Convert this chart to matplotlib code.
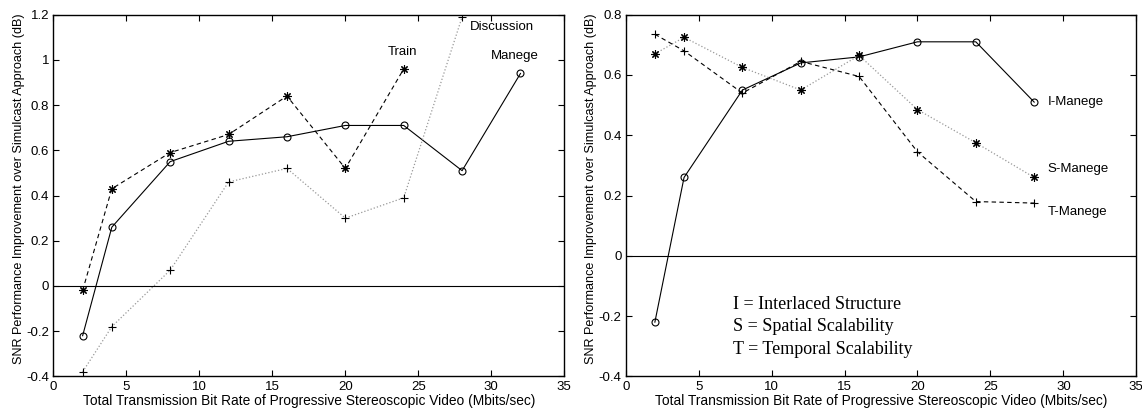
import matplotlib
matplotlib.use("Agg")
import matplotlib.pyplot as plt
import numpy as np

# data
rate_a = [2, 4, 8, 12, 16, 20, 24, 28, 32]
manege = [-0.22, 0.26, 0.55, 0.64, 0.66, 0.71, 0.71, 0.51, 0.94]
rate_train = [2, 4, 8, 12, 16, 20, 24]
train = [-0.02, 0.43, 0.59, 0.67, 0.84, 0.52, 0.96]
rate_disc = [2, 4, 8, 12, 16, 20, 24, 28]
discussion = [-0.38, -0.18, 0.07, 0.46, 0.52, 0.30, 0.39, 1.19]

rate_b = [2, 4, 8, 12, 16, 20, 24, 28]
i_manege = [-0.22, 0.26, 0.55, 0.64, 0.66, 0.71, 0.71, 0.51]
s_manege = [0.67, 0.725, 0.625, 0.55, 0.665, 0.485, 0.375, 0.26]
t_manege = [0.735, 0.68, 0.54, 0.645, 0.595, 0.345, 0.18, 0.175]

plt.rcParams['font.family'] = ['Liberation Sans', 'DejaVu Sans']
plt.rcParams['xtick.direction'] = 'in'
plt.rcParams['ytick.direction'] = 'in'
plt.rcParams['xtick.top'] = True
plt.rcParams['ytick.right'] = True
plt.rcParams['xtick.labelsize'] = 9.5
plt.rcParams['ytick.labelsize'] = 9.5

xlab = 'Total Transmission Bit Rate of Progressive Stereoscopic Video (Mbits/sec)'
ylab = 'SNR Performance Improvement over Simulcast Approach (dB)'

asterisk = (8, 2, 0)
dash = (0, (4, 3))
grey = '#999999'

fig = plt.figure(figsize=(11.42, 4.08), dpi=100)
ax1 = fig.add_axes([0.0468, 0.0775, 0.4473, 0.8865])
ax2 = fig.add_axes([0.5479, 0.0775, 0.4471, 0.8865])

# left panel
ax1.plot(rate_a, manege, '-', color='k', lw=0.8, marker='o', ms=5, mfc='none', mew=0.8)
ax1.plot(rate_train, train, linestyle=dash, color='k', lw=0.8, marker=asterisk, ms=6, mew=0.8)
ax1.plot(rate_disc, discussion, linestyle=':', color=grey, lw=0.9)
ax1.plot(rate_disc, discussion, linestyle='none', color='k', marker='+', ms=6, mew=0.8)
ax1.axhline(0, color='k', lw=0.8)
ax1.text(23.9, 1.036, 'Train', fontsize=9.5, ha='center', va='center')
ax1.text(28.5, 1.147, 'Discussion', fontsize=9.5, ha='left', va='center')
ax1.text(31.6, 1.017, 'Manege', fontsize=9.5, ha='center', va='center')
ax1.set_ylim(-0.4, 1.2)
ax1.set_yticks(np.arange(-0.4, 1.21, 0.2))
ax1.set_yticklabels(['-0.4', '-0.2', '0', '0.2', '0.4', '0.6', '0.8', '1', '1.2'])

# right panel
ax2.plot(rate_b, i_manege, '-', color='k', lw=0.8, marker='o', ms=5, mfc='none', mew=0.8)
ax2.plot(rate_b, s_manege, linestyle=':', color=grey, lw=0.9)
ax2.plot(rate_b, s_manege, linestyle='none', color='k', marker=asterisk, ms=6, mew=0.8)
ax2.plot(rate_b, t_manege, linestyle=dash, color='k', lw=0.8, marker='+', ms=6, mew=0.8)
ax2.axhline(0, color='k', lw=0.8)
ax2.text(28.9, 0.51, 'I-Manege', fontsize=9.5, ha='left', va='center')
ax2.text(28.9, 0.289, 'S-Manege', fontsize=9.5, ha='left', va='center')
ax2.text(28.9, 0.145, 'T-Manege', fontsize=9.5, ha='left', va='center')
notes = ['I = Interlaced Structure', 'S = Spatial Scalability', 'T = Temporal Scalability']
for k, note in enumerate(notes):
    ax2.text(7.35, -0.16 - 0.075 * k, note, fontsize=13, family='Liberation Serif',
             ha='left', va='center')
ax2.set_ylim(-0.4, 0.8)
ax2.set_yticks(np.arange(-0.4, 0.81, 0.2))
ax2.set_yticklabels(['-0.4', '-0.2', '0', '0.2', '0.4', '0.6', '0.8'])

for ax in (ax1, ax2):
    ax.set_xlim(0, 35)
    ax.set_xticks(range(0, 36, 5))
    ax.tick_params(length=4, width=0.8, pad=3)
    ax.set_xlabel(xlab, fontsize=9.9, labelpad=1)
    ax.set_ylabel(ylab, fontsize=9.1)
    ax.yaxis.set_label_coords(-0.056, 0.518)
    for s in ax.spines.values():
        s.set_linewidth(1.0)

fig.savefig('out.png', dpi=100)
